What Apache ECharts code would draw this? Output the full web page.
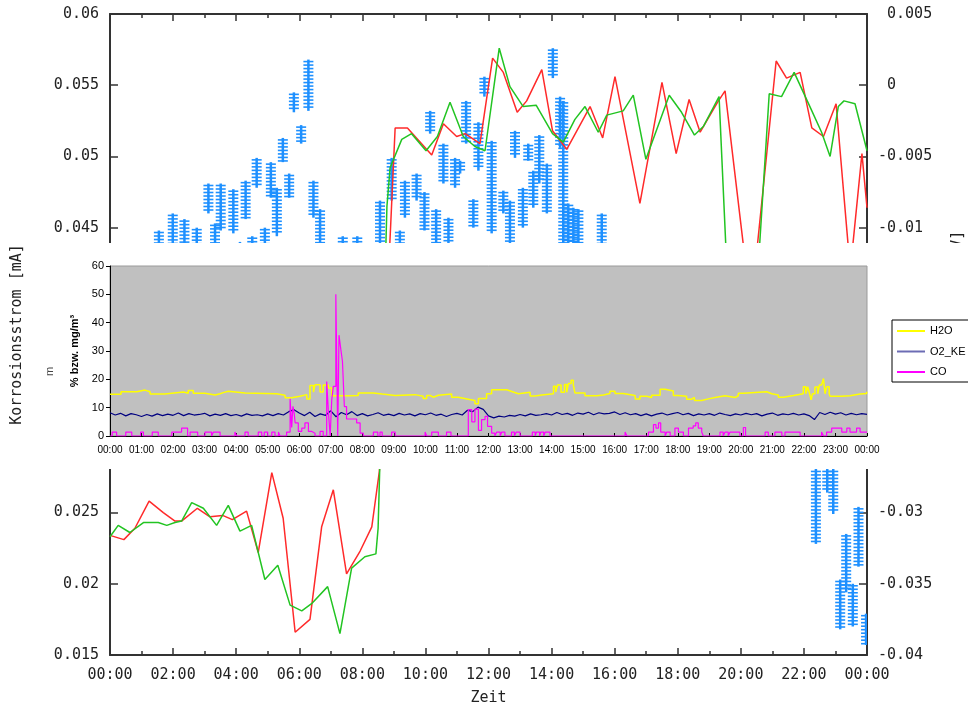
<!DOCTYPE html>
<html>
<head>
<meta charset="utf-8">
<title>Korrosionsstrom</title>
<script src="https://cdn.jsdelivr.net/npm/echarts@6/dist/echarts.min.js"></script>
<style>
  html, body { margin: 0; padding: 0; background: #fff; }
  #chart { width: 968px; height: 704px; }
</style>
</head>
<body>
<div id="chart"></div>
<script>
// Korrosionsstrom (left axis, mA), two probes: [hour, value]
const strom1 = [
  [0, 0.0234], [0.44, 0.0231], [0.79, 0.0239], [1.24, 0.0258], [1.69, 0.0250], [2.06, 0.0244],
  [2.27, 0.0244], [2.77, 0.0253], [3.17, 0.0247], [3.57, 0.0248], [3.88, 0.0245], [4.33, 0.0251],
  [4.70, 0.0222], [5.13, 0.0278], [5.49, 0.0246], [5.87, 0.0166], [6.34, 0.0175], [6.71, 0.0240],
  [7.08, 0.0266], [7.50, 0.0207], [7.93, 0.0223], [8.30, 0.0240], [8.54, 0.0279], [9.04, 0.0520],
  [9.43, 0.0520], [10.2, 0.0501], [10.57, 0.0523], [10.99, 0.0514], [11.26, 0.0516], [11.73, 0.0509],
  [12.13, 0.0569], [12.47, 0.0559], [12.91, 0.0531], [13.21, 0.0539], [13.69, 0.0561], [14.03, 0.0518],
  [14.48, 0.0505], [15.22, 0.0535], [15.62, 0.0513], [16.01, 0.0556], [16.80, 0.0467], [17.5, 0.0552],
  [17.95, 0.0502], [18.36, 0.0540], [18.71, 0.0517], [19.26, 0.0538], [19.50, 0.0546], [20.32, 0.0393],
  [21.12, 0.0567], [21.45, 0.0555], [21.88, 0.0559], [22.25, 0.0520], [22.62, 0.0514], [23.02, 0.0537],
  [23.47, 0.0420], [23.84, 0.0502], [24.0, 0.0464]
];
const strom2 = [
  [0, 0.0233], [0.26, 0.0241], [0.63, 0.0236], [1.06, 0.0243], [1.53, 0.0243], [1.80, 0.0241],
  [2.06, 0.0243], [2.27, 0.0244], [2.59, 0.0257], [2.96, 0.0253], [3.38, 0.0241], [3.75, 0.0255],
  [4.12, 0.0237], [4.49, 0.0241], [4.91, 0.0203], [5.32, 0.0213], [5.71, 0.0185], [6.08, 0.0181],
  [6.39, 0.0186], [6.90, 0.0198], [7.29, 0.0165], [7.66, 0.0211], [8.08, 0.0219], [8.43, 0.0221],
  [8.50, 0.0239], [8.78, 0.0465], [8.88, 0.0492], [9.25, 0.0512], [9.56, 0.0516], [10.02, 0.0504],
  [10.38, 0.0514], [10.78, 0.0538], [11.2, 0.0514], [11.57, 0.0507], [11.89, 0.0504], [12.34, 0.0576],
  [12.68, 0.0549], [13.10, 0.0535], [13.51, 0.0536], [14.03, 0.0516], [14.37, 0.0510], [14.74, 0.0526],
  [15.06, 0.0535], [15.48, 0.0517], [15.75, 0.0529], [16.27, 0.0532], [16.59, 0.0543], [16.99, 0.0498],
  [17.73, 0.0543], [18.12, 0.0531], [18.53, 0.0515], [18.81, 0.0521], [19.31, 0.0542], [19.6, 0.040],
  [20.2, 0.030], [20.9, 0.0544], [21.29, 0.0542], [21.69, 0.0559], [22.19, 0.0535], [22.56, 0.0517],
  [22.83, 0.0500], [23.09, 0.0535], [23.27, 0.0539], [23.62, 0.0537], [24.0, 0.0504]
];
// potential (right axis, V): stacks of points, [hour, lowest, highest]
const potential = [
  [1.55, -0.0125, -0.0102], [1.99, -0.0125, -0.0090], [2.36, -0.0125, -0.0094], [2.75, -0.0125, -0.0100],
  [3.12, -0.0090, -0.0069], [3.33, -0.0125, -0.0097], [3.51, -0.0102, -0.0069], [3.91, -0.0104, -0.0073],
  [4.12, -0.0125, -0.0110], [4.30, -0.0094, -0.0067], [4.51, -0.0125, -0.0106], [4.65, -0.0072, -0.0051],
  [4.91, -0.0125, -0.0100], [5.10, -0.0079, -0.0054], [5.29, -0.0106, -0.0072], [5.48, -0.0054, -0.0037],
  [5.68, -0.0079, -0.0062], [5.83, -0.0019, -0.0005], [6.06, -0.0041, -0.0028], [6.29, -0.0018, 0.0018],
  [6.45, -0.0093, -0.0067], [6.66, -0.0125, -0.0087], [7.38, -0.0125, -0.0106], [7.84, -0.0125, -0.0106],
  [8.56, -0.0125, -0.0081], [8.93, -0.0081, -0.0051], [9.19, -0.0125, -0.0102], [9.35, -0.0093, -0.0067],
  [9.72, -0.0081, -0.0062], [9.97, -0.0102, -0.0075], [10.15, -0.0034, -0.0018], [10.34, -0.0125, -0.0087],
  [10.57, -0.0069, -0.0041], [10.73, -0.0125, -0.0093], [10.94, -0.0072, -0.0051], [11.10, -0.0062, -0.0053],
  [11.29, -0.0041, -0.0011], [11.52, -0.0100, -0.0080], [11.68, -0.0060, -0.0026], [11.87, -0.0008, 0.0006],
  [12.10, -0.0104, -0.0039], [12.47, -0.0090, -0.0074], [12.68, -0.0125, -0.0081], [12.84, -0.0051, -0.0032],
  [13.09, -0.0100, -0.0072], [13.26, -0.0053, -0.0041], [13.42, -0.0086, -0.0060], [13.61, -0.0069, -0.0035],
  [13.85, -0.0090, -0.0055], [14.04, 0.0005, 0.0026], [14.27, -0.0044, -0.0008], [14.37, -0.0125, -0.0011],
  [14.53, -0.0125, -0.0083], [14.69, -0.0125, -0.0086], [14.85, -0.0125, -0.0087], [15.59, -0.0125, -0.0090],
  [22.38, -0.0322, -0.0255], [22.74, -0.0286, -0.0255], [22.93, -0.0301, -0.0255], [23.15, -0.0382, -0.0347],
  [23.34, -0.0356, -0.0315], [23.55, -0.0380, -0.0350], [23.73, -0.0338, -0.0296], [23.97, -0.0393, -0.0371]
];

// inset: gas analysis. step series as [hour, value held until next hour entry]
const h2o = [
  [0, 14.7], [0.35, 15.6], [0.85, 16.2], [1.11, 15.6], [1.27, 14.8], [1.74, 15.5], [2.33, 15.1],
  [2.48, 16.1], [2.64, 15.1], [3.01, 14.5], [3.33, 14.9], [3.49, 15.3], [3.59, 15.8], [3.75, 15.2],
  [4.28, 15.5], [4.33, 14.9], [5.28, 14.4], [5.55, 13.5], [5.76, 14.0], [6.02, 14.6], [6.24, 13.1],
  [6.34, 17.8], [6.45, 15.5], [6.50, 18.1], [6.66, 15.5], [6.76, 18.0], [6.92, 16.9], [7.03, 14.2],
  [7.61, 14.3], [7.87, 15.2], [8.35, 14.8], [8.63, 14.3], [9.04, 14.6], [9.67, 14.0], [9.93, 13.2],
  [10.04, 14.3], [10.15, 13.7], [10.25, 14.4], [10.41, 14.8], [10.83, 13.7], [11.04, 13.0], [11.36, 12.5],
  [11.57, 11.4], [11.68, 13.2], [11.94, 14.9], [12.10, 16.3], [12.58, 15.6], [12.76, 14.9], [12.95, 15.4],
  [13.32, 14.1], [13.47, 14.5], [13.69, 14.9], [14.06, 17.6], [14.13, 15.5], [14.19, 18.0], [14.30, 15.4],
  [14.41, 18.2], [14.48, 15.4], [14.53, 18.5], [14.62, 19.7], [14.69, 18.0], [14.74, 15.2], [15.06, 14.2],
  [15.43, 14.5], [15.64, 15.0], [15.85, 15.8], [16.01, 15.0], [16.27, 14.3], [16.65, 13.1], [16.80, 14.0],
  [17.02, 13.6], [17.17, 14.4], [17.44, 16.5], [17.60, 15.9], [17.86, 14.3], [18.00, 14.0], [18.28, 13.0],
  [18.44, 13.6], [18.53, 12.5], [18.76, 13.1], [18.97, 13.6], [19.18, 14.2], [19.50, 13.6], [19.82, 14.2],
  [19.92, 15.1], [20.08, 15.6], [20.82, 14.9], [20.98, 14.5], [21.19, 13.7], [21.35, 14.3], [21.67, 14.9],
  [21.98, 17.4], [22.06, 14.9], [22.12, 17.4], [22.18, 14.9], [22.23, 12.8], [22.27, 14.9], [22.35, 17.3],
  [22.44, 14.9], [22.49, 18.0], [22.56, 17.6], [22.62, 20.3], [22.67, 14.9], [22.72, 17.4], [22.80, 14.9],
  [22.83, 14.0], [23.20, 14.2], [23.46, 14.8], [23.78, 15.0], [23.99, 15.6], [24, 15.6]
];
const co = [
  [0, 0], [0.07, 1.4], [0.21, 0], [0.50, 1.4], [0.69, 0], [0.97, 1.4], [1.06, 0], [1.34, 1.4], [1.53, 0],
  [1.96, 1.4], [2.27, 2.8], [2.46, 0], [2.54, 1.4], [2.78, 0], [3.01, 1.4], [3.22, 0], [3.28, 1.4], [3.49, 0],
  [3.96, 1.4], [4.02, 0], [4.28, 1.4], [4.38, 0], [4.70, 1.4], [4.81, 0], [4.89, 1.4], [5.00, 0], [5.13, 1.4],
  [5.23, 0], [5.34, 1.4], [5.39, 0], [5.60, 1.4], [5.71, 13.1], [5.76, 3.0], [5.80, 10.5], [5.84, 8.0],
  [5.87, 4.6], [5.97, 1.6], [6.08, 2.8], [6.18, 4.6], [6.29, 1.6], [6.40, 1.0], [6.50, 0], [6.66, 1.6],
  [6.76, 0], [6.87, 19.2], [6.92, 9.3], [6.98, 0], [7.03, 12.8], [7.08, 17.5], [7.16, 50], [7.22, 0],
  [7.26, 35.6], [7.32, 30.4], [7.37, 26.3], [7.43, 10.4], [7.50, 6.0], [7.82, 4.6], [7.93, 1.0], [8.03, 0],
  [8.35, 1.4], [8.49, 0], [8.56, 1.4], [8.63, 0], [8.93, 1.4], [9.04, 0], [9.99, 1.4], [10.04, 0],
  [10.20, 1.4], [10.41, 0], [10.67, 1.4], [10.81, 0], [11.36, 9.3], [11.47, 5.0], [11.57, 9.5], [11.68, 2.0],
  [11.78, 5.8], [11.89, 6.9], [11.97, 3.4], [12.1, 1.0], [12.2, 0], [12.26, 1.4], [12.37, 0], [12.42, 1.4],
  [12.52, 0], [12.73, 1.4], [12.82, 0], [12.88, 1.4], [13.0, 0], [13.39, 1.4], [13.48, 0], [13.52, 1.4],
  [13.62, 0], [13.66, 1.4], [13.75, 0], [13.80, 1.4], [13.95, 0], [16.33, 1.4], [16.39, 0], [17.07, 1.4],
  [17.23, 4.0], [17.31, 2.8], [17.39, 4.6], [17.46, 1.4], [17.60, 0], [17.65, 1.4], [17.76, 0], [17.91, 2.8],
  [18.02, 1.4], [18.18, 0], [18.34, 2.8], [18.49, 3.6], [18.57, 4.6], [18.65, 2.8], [18.76, 1.4], [18.81, 0],
  [19.34, 1.4], [19.44, 0], [19.50, 1.4], [19.60, 0], [19.66, 1.4], [19.97, 0], [20.08, 3.0], [20.15, 0],
  [20.77, 1.4], [20.87, 0], [21.08, 1.4], [21.30, 0], [21.40, 1.4], [21.88, 0], [22.56, 1.4], [22.62, 0],
  [22.72, 1.4], [22.88, 2.8], [23.20, 1.4], [23.36, 2.8], [23.46, 1.4], [23.67, 2.8], [23.78, 1.4], [24, 1.4]
];
// O2_KE every 10 minutes, one row per hour
const o2ke = [
  8.2, 7.4, 8.0, 7.1, 7.9, 7.5,
  6.9, 7.6, 7.0, 7.8, 7.2, 7.7,
  7.3, 8.1, 7.2, 7.9, 7.4, 7.6,
  8.0, 7.1, 7.7, 7.3, 7.9, 7.2,
  7.6, 7.0, 7.8, 7.3, 7.5, 7.1,
  7.8, 7.2, 7.9, 7.4, 8.6, 9.3,
  8.1, 7.2, 8.4, 6.9, 7.8, 7.3,
  8.9, 6.8, 8.3, 7.5, 8.6, 7.2,
  7.9, 7.1, 7.6, 8.2, 7.3, 7.7,
  7.2, 8.0, 7.4, 7.8, 7.1, 7.9,
  7.5, 8.1, 7.3, 7.7, 6.9, 7.6,
  8.0, 7.4, 9.1, 8.6, 10.2, 9.4,
  7.1, 6.4, 7.0, 6.7, 7.3, 7.0,
  7.6, 7.1, 7.8, 7.3, 7.5, 7.9,
  7.4, 8.3, 7.6, 8.0, 7.3, 8.1,
  7.7, 8.4, 7.5, 8.2, 7.8, 8.0,
  8.5, 7.6, 8.2, 7.5, 7.9, 7.2,
  7.8, 7.1, 7.7, 8.1, 7.4, 7.9,
  8.3, 7.5, 8.0, 7.2, 7.8, 7.4,
  7.9, 7.3, 8.1, 7.6, 7.2, 7.8,
  7.4, 8.0, 7.5, 7.9, 7.1, 7.7,
  8.1, 7.3, 7.8, 7.5, 8.0, 7.4,
  7.8, 7.2, 5.8, 8.3, 7.6, 8.4,
  7.7, 8.2, 7.4, 8.0, 7.5, 7.9,
  7.6
];

const MONO = 'DejaVu Sans Mono';
const SANS = 'Liberation Sans';
const AXIS = '#333';
const BLUE = '#1e90ff';

function fmtHour(v) {
  const h = Math.round(v) % 24;
  return (h < 10 ? '0' : '') + h + ':00';
}
function fmtNum(v) {
  return String(+v.toFixed(3));
}

// one column of "+" markers from lowest to highest value
function renderStack(params, api) {
  const t = api.value(0);
  const top = api.coord([t, api.value(2)]);
  const bot = api.coord([t, api.value(1)]);
  const x = top[0];
  const kids = [{
    type: 'line',
    shape: { x1: x, y1: top[1], x2: x, y2: bot[1] },
    style: { stroke: BLUE, lineWidth: 2.5 }
  }];
  for (let y = top[1] + 2; y <= bot[1] - 1; y += 3.5) {
    kids.push({
      type: 'line',
      shape: { x1: x - 5, y1: y, x2: x + 5, y2: y },
      style: { stroke: BLUE, lineWidth: 1.6 }
    });
  }
  return { type: 'group', children: kids };
}

const chart = echarts.init(document.getElementById('chart'));

// gnuplot-like frame: ticks drawn inside
function frame(len) {
  return {
    axisLine: { show: true, onZero: false, lineStyle: { color: AXIS, width: 2 } },
    axisTick: { show: true, inside: true, length: len, lineStyle: { color: AXIS, width: 1.5 } },
    splitLine: { show: false }
  };
}
const minor = { show: true, splitNumber: 2, length: 4, lineStyle: { color: AXIS, width: 1.5 } };

chart.setOption({
  animation: false,
  grid: [
    { left: 110, top: 14, width: 757, height: 641, show: false, outerBoundsMode: 'none' },
    { left: 110, top: 266, width: 757, height: 170, show: true, backgroundColor: '#c0c0c0',
      borderColor: '#9a9a9a', borderWidth: 1, z: 11, outerBoundsMode: 'none' }
  ],
  xAxis: [
    Object.assign({
      gridIndex: 0, type: 'value', min: 0, max: 24, interval: 2, position: 'bottom', minorTick: minor,
      axisLabel: { formatter: fmtHour, fontFamily: MONO, fontSize: 15, color: '#222', margin: 13 },
      name: 'Zeit', nameLocation: 'middle', nameGap: 36,
      nameTextStyle: { fontFamily: MONO, fontSize: 15, color: '#222' }
    }, frame(7)),
    Object.assign({
      gridIndex: 0, type: 'value', min: 0, max: 24, interval: 2, position: 'top', minorTick: minor,
      axisLabel: { show: false }
    }, frame(7)),
    {
      gridIndex: 1, type: 'value', min: 0, max: 24, interval: 1, z: 12,
      axisLine: { onZero: false, lineStyle: { color: '#000', width: 1 } },
      axisTick: { inside: true, length: 3, lineStyle: { color: '#000' } },
      splitLine: { show: false },
      axisLabel: { formatter: fmtHour, fontFamily: SANS, fontSize: 10, color: '#000', margin: 9 }
    }
  ],
  yAxis: [
    Object.assign({
      gridIndex: 0, type: 'value', min: 0.015, max: 0.06, interval: 0.005, position: 'left',
      axisLabel: { formatter: fmtNum, fontFamily: MONO, fontSize: 15, color: '#222', margin: 11 },
      name: 'Korrosionsstrom [mA]', nameLocation: 'middle', nameGap: 85, nameRotate: 90,
      nameTextStyle: { fontFamily: MONO, fontSize: 15, color: '#222' }
    }, frame(8)),
    Object.assign({
      gridIndex: 0, type: 'value', min: -0.04, max: 0.005, interval: 0.005, position: 'right',
      axisLabel: {
        formatter: v => (v > -1e-9 ? ' ' : '') + fmtNum(v),
        fontFamily: MONO, fontSize: 15, color: '#222', margin: 11
      },
      name: 'Korrosionspotential [V]', nameLocation: 'middle', nameGap: 84, nameRotate: 90,
      nameTextStyle: { fontFamily: MONO, fontSize: 15, color: '#222' }
    }, frame(8)),
    {
      gridIndex: 1, type: 'value', min: 0, max: 60, interval: 10, z: 12,
      axisLine: { show: true, onZero: false, lineStyle: { color: '#000', width: 1 } },
      axisTick: { show: true, length: 4, lineStyle: { color: '#000' } },
      splitLine: { show: false },
      axisLabel: { fontFamily: SANS, fontSize: 11, color: '#000', margin: 6 },
      name: '% bzw. mg/m³', nameLocation: 'middle', nameGap: 30, nameRotate: 90,
      nameTextStyle: { fontFamily: SANS, fontSize: 11, fontWeight: 'bold', color: '#000' }
    }
  ],
  legend: {
    data: [
      { name: 'H2O' },
      { name: 'O2_KE', itemStyle: { color: '#6c6cb4' } },
      { name: 'CO' }
    ],
    icon: 'rect', orient: 'vertical', left: 892, top: 320, z: 20,
    itemWidth: 28, itemHeight: 2, itemGap: 6.5, padding: [4, 8, 3, 5],
    backgroundColor: '#fff', borderColor: '#000', borderWidth: 1, borderRadius: 0,
    textStyle: { fontFamily: SANS, fontSize: 11, color: '#000', lineHeight: 14 }
  },
  graphic: [
    // white panel the gas chart sits on
    { type: 'rect', left: 40, top: 243, shape: { width: 928, height: 226 }, style: { fill: '#fff' }, z: 10 },
    { type: 'text', x: 44, y: 376, rotation: Math.PI / 2, z: 12,
      style: { text: 'm', font: '11px Liberation Sans', fill: '#444' } }
  ],
  series: [
    { type: 'custom', name: 'Potential', xAxisIndex: 0, yAxisIndex: 1, renderItem: renderStack,
      data: potential, clip: true, z: 2, silent: true },
    { type: 'line', name: 'Strom 1', xAxisIndex: 0, yAxisIndex: 0, data: strom1, symbol: 'none',
      lineStyle: { color: '#ff2a2a', width: 1.5 }, z: 3, silent: true },
    { type: 'line', name: 'Strom 2', xAxisIndex: 0, yAxisIndex: 0, data: strom2, symbol: 'none',
      lineStyle: { color: '#22c422', width: 1.5 }, z: 3, silent: true },
    { type: 'line', name: 'H2O', xAxisIndex: 2, yAxisIndex: 2, data: h2o, step: 'end', symbol: 'none',
      lineStyle: { color: '#ffff00', width: 1.5 }, itemStyle: { color: '#ffff00' }, z: 13, silent: true },
    { type: 'line', name: 'O2_KE', xAxisIndex: 2, yAxisIndex: 2, data: o2ke.map((v, i) => [i / 6, v]),
      symbol: 'none', lineStyle: { color: '#000080', width: 1.2 }, itemStyle: { color: '#000080' },
      z: 14, silent: true },
    { type: 'line', name: 'CO', xAxisIndex: 2, yAxisIndex: 2, data: co, step: 'end', symbol: 'none',
      lineStyle: { color: '#ff00ff', width: 1.2 }, itemStyle: { color: '#ff00ff' }, z: 15, silent: true }
  ]
});
</script>
</body>
</html>
